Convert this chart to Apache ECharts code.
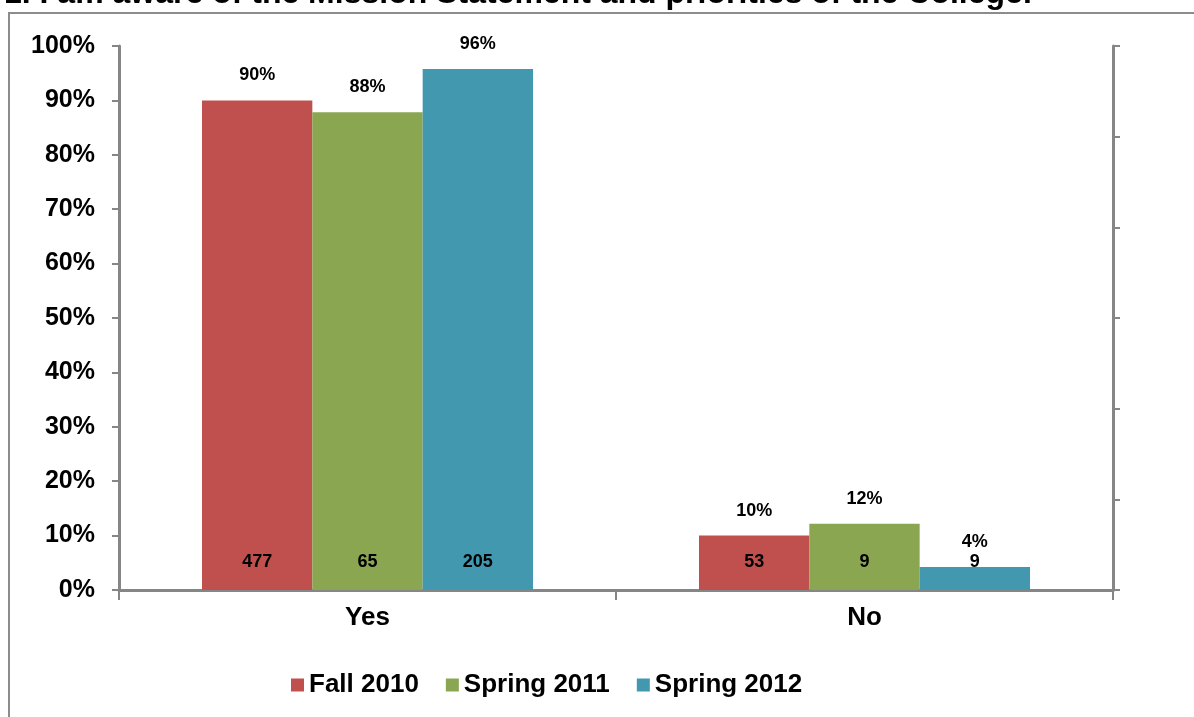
<!DOCTYPE html>
<html><head><meta charset="utf-8">
<script src="https://cdn.jsdelivr.net/npm/echarts@6/dist/echarts.min.js"></script>
<style>html,body{margin:0;padding:0;background:#fff}#c{width:1194px;height:717px}</style>
</head><body><div id="c"></div>
<script>
const titleText = "1. I am aware of the Mission Statement and priorities of the College.";
const categories = ["Yes", "No"];
const seriesNames = ["Fall 2010", "Spring 2011", "Spring 2012"];
const fall2010Pct = [90.0, 10.0];
const spring2011Pct = [87.84, 12.16];
const spring2012Pct = [95.79, 4.21];
const fall2010Count = [477, 53];
const spring2011Count = [65, 9];
const spring2012Count = [205, 9];
const yTickLabels = ["0%","10%","20%","30%","40%","50%","60%","70%","80%","90%","100%"];
const colors = ["#C0504D", "#8BA650", "#4198AF"];

const pcts = [fall2010Pct, spring2011Pct, spring2012Pct];
const counts = [fall2010Count, spring2011Count, spring2012Count];
const FONT = "Liberation Sans, Arial, sans-serif";

const series = [];
pcts.forEach((d, i) => {
  series.push({
    name: seriesNames[i], type: 'bar', xAxisIndex: 0, yAxisIndex: 0,
    data: d, barGap: '0%', barCategoryGap: '33.4%',
    itemStyle: { color: colors[i] },
    label: { show: true, position: 'top', distance: 16, color: '#000', fontFamily: FONT,
      fontWeight: 'bold', fontSize: 18, formatter: p => Math.round(p.value) + '%' },
    emphasis: { disabled: true }
  });
});
counts.forEach((c, i) => {
  series.push({
    name: seriesNames[i] + ' n', type: 'bar', xAxisIndex: 1, yAxisIndex: 0,
    data: pcts[i].map((v, k) => ({ value: v, n: c[k] })), barGap: '0%', barCategoryGap: '33.4%',
    itemStyle: { color: 'rgba(0,0,0,0)' }, silent: true, z: 5,
    label: { show: true, position: 'insideBottom', distance: 19, color: '#000', fontFamily: FONT,
      fontWeight: 'bold', fontSize: 18, formatter: p => String(p.data.n) },
    emphasis: { disabled: true }
  });
});

const chart = echarts.init(document.getElementById('c'), null, { renderer: 'canvas' });
chart.setOption({
  animation: false,
  backgroundColor: '#fff',
  title: { text: titleText, left: -1, top: -27,
    textStyle: { fontFamily: FONT, fontWeight: 'bold', fontSize: 32, color: '#000' } },
  graphic: [{ type: 'rect', shape: { x: 9, y: 13, width: 1200, height: 720 },
    style: { fill: 'none', stroke: '#8c8c8c', lineWidth: 2 }, z: -1 }],
  grid: { left: 119, right: 81, top: 46, bottom: 127 },
  legend: { data: seriesNames, left: 286, top: 667, itemWidth: 13, itemHeight: 13, itemGap: 27,
    icon: 'rect', textStyle: { fontFamily: FONT, fontWeight: 'bold', fontSize: 26, color: '#000' } },
  xAxis: [{
    type: 'category', data: categories,
    axisLine: { lineStyle: { color: '#868686', width: 3 } },
    axisTick: { show: true, length: 10, lineStyle: { color: '#868686', width: 2 } },
    axisLabel: { margin: 15, color: '#000', fontFamily: FONT, fontWeight: 'bold', fontSize: 26 }
  }, {
    type: 'category', data: categories, show: false
  }],
  yAxis: [{
    type: 'value', min: 0, max: 100, interval: 10,
    axisLine: { show: true, lineStyle: { color: '#868686', width: 3 } },
    axisTick: { show: true, length: 7, lineStyle: { color: '#868686', width: 2 } },
    splitLine: { show: false },
    axisLabel: { margin: 24, color: '#000', fontFamily: FONT, fontWeight: 'bold', fontSize: 25,
      formatter: (v) => yTickLabels[Math.round(v / 10)] }
  }, {
    type: 'value', position: 'right', min: 0, max: 6, interval: 1,
    axisLine: { show: true, lineStyle: { color: '#868686', width: 3 } },
    axisTick: { show: true, length: 7, lineStyle: { color: '#868686', width: 2 } },
    splitLine: { show: false }, axisLabel: { show: false }
  }],
  series: series
});
</script></body></html>
